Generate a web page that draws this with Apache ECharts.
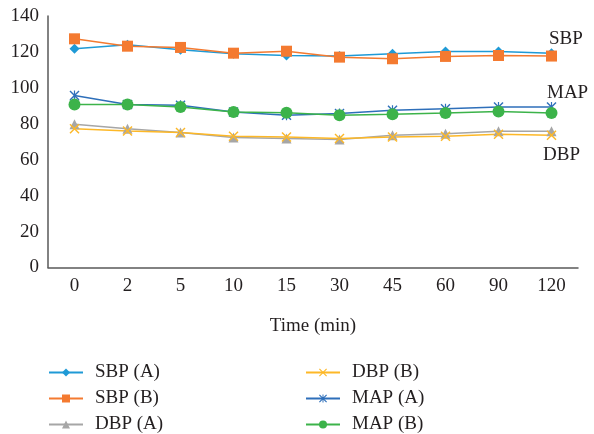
<!DOCTYPE html>
<html><head><meta charset="utf-8">
<script src="https://cdn.jsdelivr.net/npm/echarts@6/dist/echarts.min.js"></script>
<style>html,body{margin:0;padding:0;background:#fff}#c{width:594px;height:434px}</style>
</head><body><div id="c"></div>
<script>
const categories = ['0','2','5','10','15','30','45','60','90','120'];
const sbpA = [121.8,124,121.2,119,118,117.7,119,120.3,120.3,119.2];
const sbpB = [127.3,123.2,122.5,119.3,120.4,117.1,116.2,117.5,118,117.7];
const dbpA = [79.7,77.3,75.1,72.3,71.8,71.2,73.6,74.5,75.8,75.8];
const dbpB = [77.3,76,75.1,73,72.7,71.8,72.7,73,74.2,73.6];
const mapA = [95.8,90.7,90.3,86.6,84.7,85.7,87.5,88.4,89.3,89.3];
const mapB = [90.7,90.7,89.3,86.6,86.2,84.7,85.3,86,86.9,86];
const yTicks = [0,20,40,60,80,100,120,140];
const groupLabels = ['SBP','MAP','DBP'];

const FONT = 'Liberation Serif';
const X_SYM = 'path://M1,0 L5,4 L9,0 L10,1 L6,5 L10,9 L9,10 L5,6 L1,10 L0,9 L4,5 L0,1 Z';
const AST_SYM = X_SYM + ' M4.4,0 L5.6,0 L5.6,10 L4.4,10 Z';

function mk(name, data, color, symbol, size){
  return {name, type:'line', data, symbol, symbolSize:size,
    lineStyle:{color, width:1.5}, itemStyle:{color, borderWidth:0},
    showSymbol:true, z: 3};
}
const series = [
  mk('SBP (A)', sbpA, '#1f9ad6', 'diamond', 10),
  mk('SBP (B)', sbpB, '#f47a30', 'rect', 11),
  mk('DBP (A)', dbpA, '#a6a6a6', 'triangle', 10),
  mk('DBP (B)', dbpB, '#fdb827', X_SYM, 10),
  mk('MAP (A)', mapA, '#2e6fba', AST_SYM, 10),
  mk('MAP (B)', mapB, '#3cb34a', 'circle', 12)
];

const chart = echarts.init(document.getElementById('c'), null, {renderer:'canvas'});
const legendCommon = {orient:'vertical', itemWidth:34, itemHeight:10, itemGap:7,
  textStyle:{fontFamily:FONT, fontSize:19, lineHeight:18, color:'#231f20', padding:[0,0,0,7]}, padding:0};
chart.setOption({
  animation:false,
  backgroundColor:'#fff',
  grid:{left:48, right:16, top:16, bottom:166.5, containLabel:false},
  xAxis:{type:'category', data:categories, boundaryGap:true,
    axisLine:{lineStyle:{color:'#595959', width:1.5}}, axisTick:{show:false},
    axisLabel:{fontFamily:FONT, fontSize:19, color:'#231f20', margin:9},
    name:'Time (min)', nameLocation:'middle', nameGap:49,
    nameTextStyle:{fontFamily:FONT, fontSize:19, color:'#231f20'}},
  yAxis:{type:'value', min:yTicks[0], max:yTicks[yTicks.length-1], interval:20,
    axisLine:{show:true, lineStyle:{color:'#595959', width:1.5}}, axisTick:{show:false},
    splitLine:{show:false},
    axisLabel:{fontFamily:FONT, fontSize:19, color:'#231f20', margin:9}},
  legend:[
    Object.assign({left:48, top:363, data:['SBP (A)','SBP (B)','DBP (A)']}, legendCommon),
    Object.assign({left:305, top:363, data:['DBP (B)','MAP (A)','MAP (B)']}, legendCommon)
  ],
  graphic:[
    {type:'text', left:549, top:30, style:{text:groupLabels[0], font:'19px "Liberation Serif"', fill:'#231f20'}},
    {type:'text', left:547, top:84, style:{text:groupLabels[1], font:'19px "Liberation Serif"', fill:'#231f20'}},
    {type:'text', left:543, top:146, style:{text:groupLabels[2], font:'19px "Liberation Serif"', fill:'#231f20'}}
  ],
  series
});
</script></body></html>
